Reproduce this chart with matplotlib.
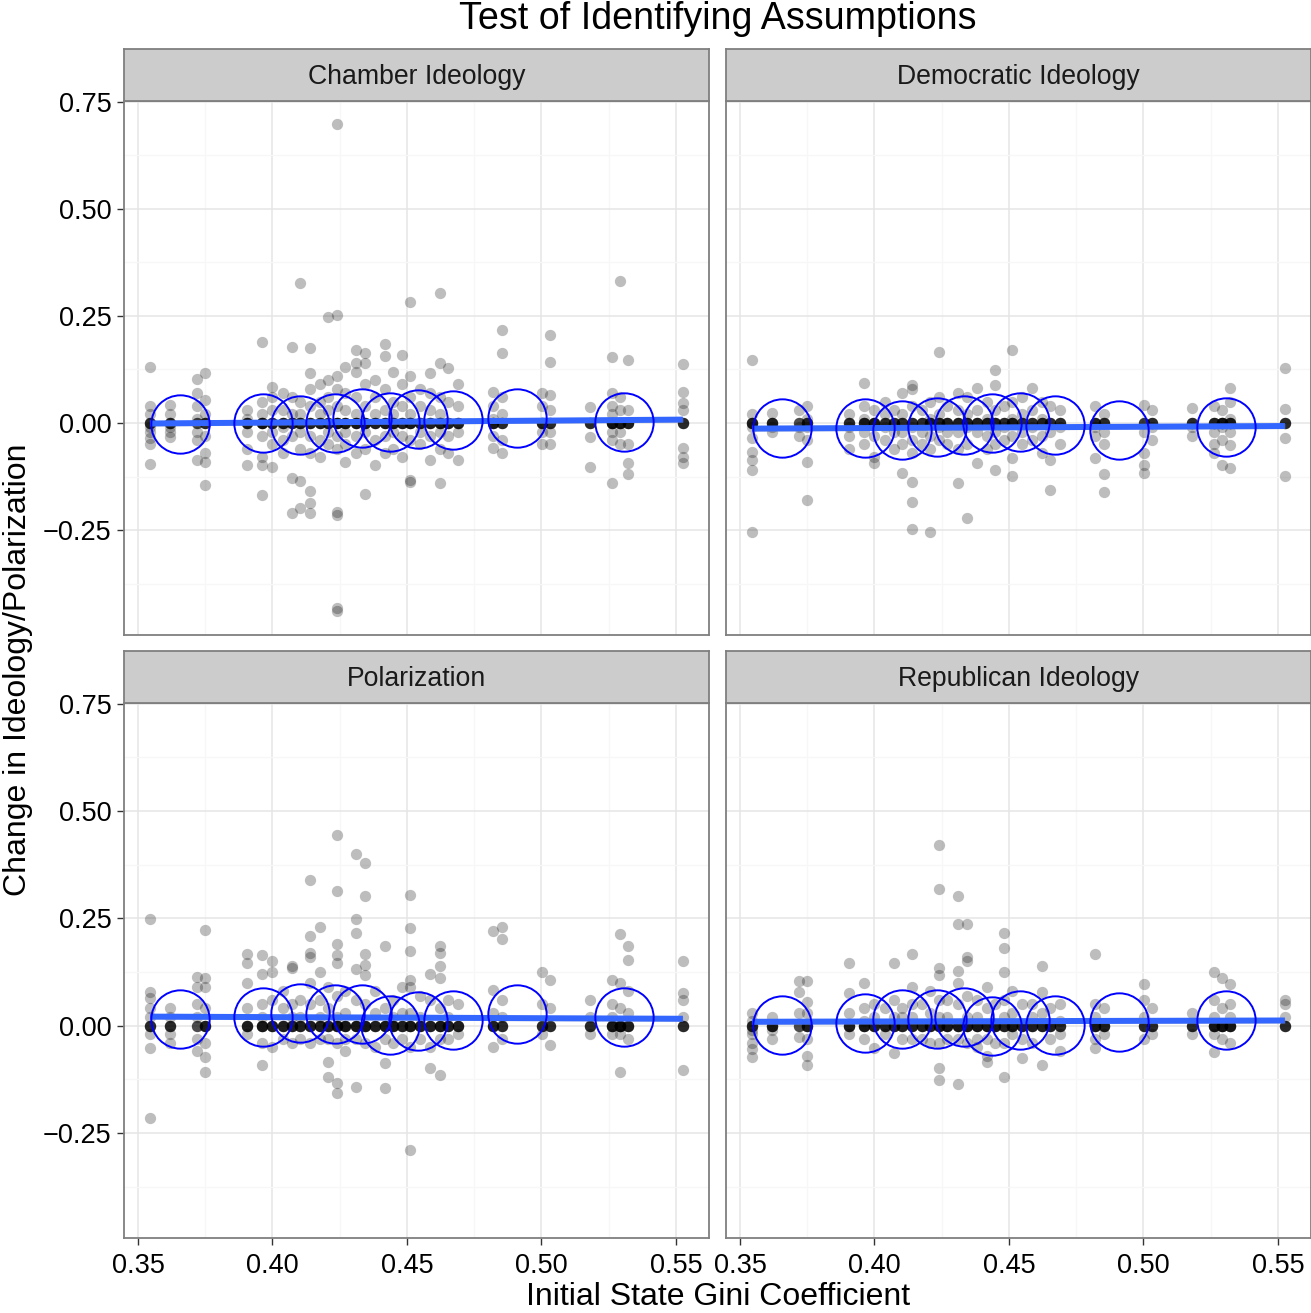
import numpy as np
import matplotlib.pyplot as plt

plt.rcParams['font.family'] = ['Liberation Sans', 'DejaVu Sans']

# state Gini columns (x positions of the point stacks)
gini = [0.3545, 0.3619, 0.3719, 0.3749, 0.3905, 0.3961, 0.3998, 0.4039, 0.4073,
        0.4102, 0.4139, 0.4177, 0.4206, 0.4240, 0.4270, 0.4310, 0.4344, 0.4381,
        0.4418, 0.4448, 0.4481, 0.4511, 0.4548, 0.4586, 0.4623, 0.4652, 0.4690,
        0.4820, 0.4853, 0.5002, 0.5032, 0.5180, 0.5262, 0.5292, 0.5322, 0.5526]

panels = ['Chamber Ideology', 'Democratic Ideology', 'Polarization', 'Republican Ideology']

# change values, one list per Gini column
chamber = [
    [0.131, 0.04, 0.02, 0.0, 0.0, -0.01, -0.02, -0.035, -0.05, -0.096],
    [0.042, 0.02, 0.0, 0.0, -0.01, -0.02, -0.033],
    [0.103, 0.07, 0.04, 0.01, 0.0, -0.02, -0.04, -0.086],
    [0.117, 0.054, 0.02, 0.0, 0.0, -0.03, -0.07, -0.09, -0.145],
    [0.03, 0.01, 0.0, 0.0, -0.02, -0.06, -0.098],
    [0.19, 0.05, 0.02, 0.0, 0.0, 0.0, -0.03, -0.08, -0.098, -0.168],
    [0.084, 0.06, 0.03, 0.0, 0.0, -0.02, -0.05, -0.102],
    [0.07, 0.03, 0.0, 0.0, -0.01, -0.04, -0.07],
    [0.178, 0.06, 0.02, 0.0, 0.0, -0.03, -0.129, -0.21],
    [0.327, 0.05, 0.02, 0.0, 0.0, -0.02, -0.06, -0.135, -0.199],
    [0.175, 0.117, 0.08, 0.04, 0.0, 0.0, -0.03, -0.07, -0.159, -0.187, -0.21],
    [0.09, 0.05, 0.02, 0.0, 0.0, -0.04, -0.08],
    [0.248, 0.1, 0.06, 0.03, 0.0, 0.0, -0.02, -0.05],
    [0.699, 0.252, 0.11, 0.08, 0.04, 0.0, 0.0, 0.0, -0.03, -0.06, -0.208, -0.215, -0.432, -0.439],
    [0.13, 0.07, 0.03, 0.0, 0.0, -0.02, -0.05, -0.09],
    [0.17, 0.14, 0.119, 0.06, 0.02, 0.0, 0.0, -0.03, -0.07],
    [0.164, 0.14, 0.09, 0.04, 0.0, 0.0, -0.02, -0.06, -0.166],
    [0.1, 0.06, 0.02, 0.0, 0.0, -0.04, -0.098],
    [0.185, 0.157, 0.08, 0.03, 0.0, 0.0, -0.03, -0.07],
    [0.12, 0.05, 0.02, 0.0, 0.0, -0.02, -0.06],
    [0.159, 0.09, 0.04, 0.0, 0.0, -0.03, -0.08],
    [0.283, 0.11, 0.06, 0.02, 0.0, 0.0, -0.04, -0.133, -0.137],
    [0.08, 0.04, 0.0, 0.0, -0.02, -0.05],
    [0.117, 0.07, 0.03, 0.0, 0.0, -0.03, -0.086],
    [0.304, 0.14, 0.06, 0.02, 0.0, 0.0, -0.02, -0.06, -0.14],
    [0.128, 0.05, 0.0, 0.0, -0.03, -0.07],
    [0.09, 0.04, 0.0, 0.0, -0.02, -0.086],
    [0.072, 0.04, 0.01, 0.0, 0.0, -0.03, -0.058],
    [0.217, 0.164, 0.06, 0.02, 0.0, 0.0, -0.04, -0.07],
    [0.07, 0.04, 0.0, 0.0, -0.02, -0.05],
    [0.205, 0.143, 0.065, 0.03, 0.0, 0.0, -0.02, -0.05],
    [0.037, 0.0, 0.0, -0.033, -0.103],
    [0.154, 0.07, 0.04, 0.02, 0.0, 0.0, 0.0, -0.02, -0.04, -0.14],
    [0.332, 0.06, 0.03, 0.0, 0.0, -0.02, -0.05],
    [0.147, 0.03, 0.0, 0.0, -0.05, -0.094, -0.12],
    [0.138, 0.072, 0.047, 0.03, 0.0, 0.0, -0.058, -0.08, -0.094],
]

democratic = [
    [0.147, 0.02, 0.0, 0.0, -0.01, -0.035, -0.068, -0.086, -0.11, -0.255],
    [0.023, 0.0, 0.0, -0.01, -0.02],
    [0.03, 0.0, -0.01, -0.03],
    [0.04, 0.01, 0.0, -0.01, -0.04, -0.091, -0.18],
    [0.02, 0.0, -0.01, -0.03, -0.06],
    [0.093, 0.04, 0.01, 0.0, -0.02, -0.05],
    [0.03, 0.0, 0.0, -0.03, -0.08, -0.094],
    [0.05, 0.02, 0.0, -0.01, -0.04],
    [0.03, 0.0, -0.02, -0.06],
    [0.07, 0.02, 0.0, -0.02, -0.05, -0.117],
    [0.089, 0.08, 0.04, 0.0, -0.01, -0.04, -0.07, -0.138, -0.185, -0.248],
    [0.03, 0.0, -0.02, -0.05],
    [0.05, 0.01, 0.0, -0.03, -0.06, -0.255],
    [0.166, 0.06, 0.02, 0.0, -0.01, -0.04],
    [0.04, 0.0, -0.02, -0.05],
    [0.07, 0.03, 0.0, -0.02, -0.06, -0.14],
    [0.06, 0.02, 0.0, -0.01, -0.05, -0.222],
    [0.082, 0.03, 0.0, -0.02, -0.094],
    [0.05, 0.01, 0.0, -0.03, -0.06],
    [0.124, 0.089, 0.03, 0.0, -0.02, -0.05, -0.11],
    [0.04, 0.0, -0.01, -0.04],
    [0.17, 0.05, 0.01, 0.0, -0.03, -0.082, -0.124],
    [0.06, 0.02, 0.0, -0.02, -0.05],
    [0.082, 0.03, 0.0, -0.01, -0.04],
    [0.05, 0.01, 0.0, -0.03, -0.07],
    [0.04, 0.0, -0.02, -0.086, -0.157],
    [0.03, 0.0, -0.01, -0.05],
    [0.04, 0.0, -0.01, -0.03, -0.082],
    [0.02, 0.0, -0.02, -0.05, -0.12, -0.161],
    [0.042, 0.0, -0.02, -0.07, -0.098, -0.117],
    [0.03, 0.0, -0.01, -0.04],
    [0.035, 0.0, -0.01, -0.03],
    [0.04, 0.0, -0.02, -0.05, -0.07],
    [0.03, 0.0, 0.0, -0.01, -0.04, -0.098],
    [0.082, 0.05, 0.01, 0.0, -0.02, -0.052, -0.105],
    [0.128, 0.033, 0.0, 0.0, -0.035, -0.124],
]

polarization = [
    [0.248, 0.079, 0.065, 0.04, 0.02, 0.0, 0.0, -0.02, -0.051, -0.215],
    [0.04, 0.02, 0.0, 0.0, -0.02, -0.04],
    [0.114, 0.09, 0.05, 0.02, 0.0, -0.03, -0.058],
    [0.222, 0.112, 0.09, 0.04, 0.0, 0.0, -0.04, -0.072, -0.107],
    [0.166, 0.145, 0.1, 0.04, 0.0, 0.0, -0.02],
    [0.164, 0.12, 0.05, 0.02, 0.0, 0.0, -0.04, -0.091],
    [0.15, 0.124, 0.06, 0.0, 0.0, -0.049],
    [0.08, 0.04, 0.0, 0.0, -0.03],
    [0.138, 0.135, 0.05, 0.02, 0.0, 0.0, -0.04],
    [0.06, 0.02, 0.0, 0.0, -0.03],
    [0.339, 0.21, 0.17, 0.16, 0.1, 0.05, 0.0, 0.0, -0.04],
    [0.231, 0.124, 0.06, 0.02, 0.0, 0.0, -0.03],
    [0.09, 0.04, 0.0, 0.0, -0.03, -0.084, -0.119],
    [0.444, 0.313, 0.19, 0.164, 0.145, 0.07, 0.02, 0.0, 0.0, -0.04, -0.133, -0.156],
    [0.08, 0.03, 0.0, 0.0, -0.03, -0.06],
    [0.40, 0.248, 0.215, 0.133, 0.06, 0.0, 0.0, -0.03, -0.143],
    [0.379, 0.301, 0.168, 0.142, 0.117, 0.05, 0.0, 0.0, -0.04],
    [0.08, 0.03, 0.0, 0.0, -0.05],
    [0.185, 0.04, 0.0, 0.0, -0.03, -0.086, -0.145],
    [0.06, 0.02, 0.0, 0.0, -0.04],
    [0.09, 0.03, 0.0, 0.0, -0.03],
    [0.304, 0.227, 0.173, 0.107, 0.09, 0.03, 0.0, 0.0, -0.05, -0.29],
    [0.07, 0.02, 0.0, 0.0, -0.03],
    [0.121, 0.06, 0.0, 0.0, -0.05, -0.098],
    [0.185, 0.17, 0.138, 0.112, 0.04, 0.0, 0.0, -0.03, -0.114],
    [0.06, 0.02, 0.0, 0.0, -0.03],
    [0.05, 0.0, 0.0, -0.02],
    [0.22, 0.084, 0.03, 0.0, 0.0, -0.05],
    [0.229, 0.201, 0.06, 0.02, 0.0, 0.0, -0.03],
    [0.126, 0.05, 0.0, 0.0, -0.02],
    [0.107, 0.04, 0.0, 0.0, -0.044],
    [0.06, 0.02, 0.0, 0.0, -0.02],
    [0.107, 0.05, 0.02, 0.0, 0.0, -0.02],
    [0.213, 0.1, 0.04, 0.0, 0.0, 0.0, -0.02, -0.107],
    [0.185, 0.154, 0.08, 0.03, 0.0, 0.0, -0.03],
    [0.15, 0.077, 0.06, 0.02, 0.0, 0.0, -0.103],
]

republican = [
    [0.03, 0.01, 0.0, 0.0, -0.01, -0.02, -0.04, -0.055, -0.072],
    [0.02, 0.0, 0.0, -0.01, -0.03],
    [0.103, 0.079, 0.03, 0.0, -0.026],
    [0.103, 0.056, 0.03, 0.0, 0.0, -0.03, -0.07, -0.091],
    [0.145, 0.077, 0.03, 0.0, 0.0, -0.02],
    [0.1, 0.04, 0.01, 0.0, 0.0, -0.03],
    [0.05, 0.02, 0.0, 0.0, -0.051],
    [0.04, 0.0, 0.0, -0.02],
    [0.147, 0.06, 0.02, 0.0, 0.0, -0.063],
    [0.04, 0.02, 0.0, 0.0, -0.03],
    [0.168, 0.091, 0.05, 0.02, 0.0, 0.0, -0.03],
    [0.05, 0.0, 0.0, -0.03],
    [0.08, 0.03, 0.0, 0.0, -0.04],
    [0.421, 0.318, 0.135, 0.119, 0.06, 0.02, 0.0, 0.0, -0.04, -0.098, -0.126],
    [0.06, 0.02, 0.0, 0.0, -0.03],
    [0.301, 0.238, 0.128, 0.1, 0.05, 0.0, 0.0, -0.03, -0.136],
    [0.236, 0.161, 0.15, 0.07, 0.02, 0.0, 0.0, -0.04],
    [0.06, 0.02, 0.0, 0.0, -0.03, -0.05],
    [0.089, 0.04, 0.0, 0.0, -0.03, -0.07, -0.084],
    [0.05, 0.0, 0.0, -0.04],
    [0.217, 0.18, 0.124, 0.06, 0.02, 0.0, 0.0, -0.04, -0.119],
    [0.08, 0.03, 0.0, 0.0, -0.02],
    [0.05, 0.0, 0.0, -0.03, -0.075],
    [0.05, 0.02, 0.0, 0.0, -0.04],
    [0.138, 0.079, 0.03, 0.0, 0.0, -0.091],
    [0.04, 0.0, 0.0, -0.03],
    [0.05, 0.01, 0.0, -0.02, -0.06],
    [0.166, 0.05, 0.02, 0.0, 0.0, -0.03, -0.051],
    [0.04, 0.0, 0.0, -0.02],
    [0.096, 0.06, 0.02, 0.0, 0.0, -0.03],
    [0.04, 0.0, -0.02],
    [0.03, 0.0, 0.0, -0.02],
    [0.126, 0.06, 0.02, 0.0, 0.0, -0.02, -0.061],
    [0.11, 0.04, 0.0, 0.0, -0.03],
    [0.096, 0.05, 0.02, 0.0, 0.0, -0.04],
    [0.06, 0.05, 0.02, 0.0, 0.0],
]

# extra observations with no change (the dark blobs at 0), per column
zeros_chamber = [4, 4, 3, 4, 5, 6, 5, 5, 5, 5, 5, 5, 5, 6, 6, 6, 6, 5,
                 6, 6, 5, 6, 5, 5, 6, 5, 5, 6, 4, 5, 4, 4, 6, 6, 5, 4]
zeros_democratic = [5, 5, 3, 5, 5, 6, 6, 5, 5, 5, 5, 5, 6, 6, 6, 6, 6, 6,
                    6, 6, 5, 6, 5, 5, 5, 5, 5, 6, 5, 4, 5, 5, 6, 7, 6, 4]
zeros_polarization = [4, 4, 3, 5, 5, 6, 5, 5, 5, 5, 5, 5, 5, 6, 6, 6, 6, 5,
                      6, 6, 5, 6, 5, 5, 6, 5, 5, 5, 4, 4, 4, 4, 6, 7, 5, 4]
zeros_republican = [4, 5, 3, 5, 5, 6, 5, 5, 5, 5, 5, 5, 5, 6, 6, 6, 6, 6,
                    6, 6, 5, 6, 5, 5, 5, 5, 5, 6, 5, 4, 5, 4, 6, 7, 6, 4]

# binned means (blue open circles)
bin_x = [0.3656, 0.3965, 0.4102, 0.4232, 0.4333, 0.4437, 0.4541, 0.4671, 0.4909, 0.5307]
bin_chamber = [-0.002, 0.0, -0.005, 0.0, 0.012, 0.002, 0.009, 0.007, 0.012, 0.002]
bin_democratic = [-0.012, -0.012, -0.016, -0.009, -0.005, 0.0, 0.002, -0.005, -0.016, -0.009]
bin_polarization = [0.016, 0.021, 0.03, 0.026, 0.026, 0.002, 0.01, 0.012, 0.026, 0.021]
bin_republican = [0.002, 0.007, 0.016, 0.016, 0.021, 0.0, 0.014, 0.002, 0.009, 0.014]

# linear fit ends
fit_x = [0.3545, 0.5526]
fit_chamber = [-0.001, 0.008]
fit_democratic = [-0.013, -0.007]
fit_polarization = [0.021, 0.016]
fit_republican = [0.009, 0.012]
fit_se = [0.006, 0.006]

series = [chamber, democratic, polarization, republican]
zeros = [zeros_chamber, zeros_democratic, zeros_polarization, zeros_republican]
bins = [bin_chamber, bin_democratic, bin_polarization, bin_republican]
fits = [fit_chamber, fit_democratic, fit_polarization, fit_republican]

W, H = 1311, 1313
fig = plt.figure(figsize=(W / 100, H / 100), dpi=100)

# panel boxes in pixels: left, top, right, bottom
boxes = [(124, 101, 709, 635), (726, 101, 1311, 635),
         (124, 703, 709, 1238), (726, 703, 1311, 1238)]
strip_h = 52

def fbox(l, t, r, b):
    return [l / W, 1 - b / H, (r - l) / W, (b - t) / H]

border = '#7F7F7F'
for k, (l, t, r, b) in enumerate(boxes):
    ax = fig.add_axes(fbox(l, t, r, b))
    xs, ys = [], []
    for g, col, nz in zip(gini, series[k], zeros[k]):
        xs += [g] * (len(col) + nz)
        ys += col + [0.0] * nz
    ax.scatter(xs, ys, s=66, color='black', alpha=0.26, linewidths=0, zorder=3)

    fy = np.array(fits[k])
    se = np.array(fit_se)
    ax.fill_between(fit_x, fy - se, fy + se, color='#999999', alpha=0.4, lw=0, zorder=4)
    ax.plot(fit_x, fy, color='#3366FF', lw=4.3, solid_capstyle='butt', zorder=5)
    ax.plot(bin_x, bins[k], 'o', ms=42, mfc='none', mec='#0000FF', mew=1.4, zorder=6)

    ax.set_xlim(0.3448, 0.5623)
    ax.set_ylim(-0.495, 0.752)
    ax.set_xticks([0.35, 0.40, 0.45, 0.50, 0.55])
    ax.set_xticks([0.375, 0.425, 0.475, 0.525], minor=True)
    ax.set_yticks([-0.25, 0.0, 0.25, 0.5, 0.75])
    ax.set_yticks([-0.375, -0.125, 0.125, 0.375, 0.625], minor=True)
    ax.grid(True, which='major', color='#E5E5E5', lw=1.1, zorder=0)
    ax.grid(True, which='minor', color='#F7F7F7', lw=0.9, zorder=0)
    ax.set_axisbelow(True)
    for sp in ax.spines.values():
        sp.set_color(border)
        sp.set_linewidth(1.3)
    ax.tick_params(which='minor', length=0)
    ax.tick_params(which='major', length=5, width=1.0, color='#333333',
                   labelsize=19.5, labelcolor='black', pad=4)
    ax.tick_params(axis='x', pad=6)
    if k % 2 == 0:
        ax.set_yticklabels(['\u22120.25', '0.00', '0.25', '0.50', '0.75'])
    else:
        ax.tick_params(axis='y', left=False, labelleft=False)
    if k >= 2:
        ax.set_xticklabels(['0.35', '0.40', '0.45', '0.50', '0.55'])
    else:
        ax.tick_params(axis='x', bottom=False, labelbottom=False)

    sax = fig.add_axes(fbox(l, t - strip_h, r, t))
    sax.set_facecolor('#CCCCCC')
    sax.set_xticks([])
    sax.set_yticks([])
    for sp in sax.spines.values():
        sp.set_color(border)
        sp.set_linewidth(1.3)
    sax.text(0.5, 0.47, panels[k], ha='center', va='center', fontsize=19.2,
             color='#1A1A1A', transform=sax.transAxes)

fig.text(717.5 / W, 1 - 19 / H, 'Test of Identifying Assumptions', ha='center',
         va='center', fontsize=27.1)
fig.text(718 / W, 1 - 1297 / H, 'Initial State Gini Coefficient', ha='center',
         va='center', fontsize=23)
fig.text(18 / W, 1 - 670 / H, 'Change in Ideology/Polarization', ha='center',
         va='center', rotation=90, fontsize=23)

fig.savefig('out.png', dpi=100)
